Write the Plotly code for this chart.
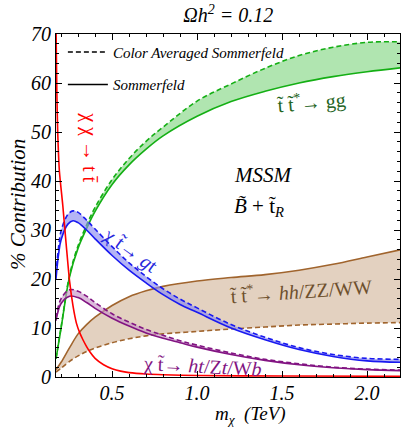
import plotly.graph_objects as go

# ---------------- data ----------------
x_gg = [0.17, 0.2, 0.25, 0.3, 0.35, 0.4, 0.5, 0.6, 0.7, 0.8, 1.0, 1.2, 1.4, 1.6, 1.8, 2.0, 2.2]
gg_somm = [3.7, 10, 20.5, 26.3, 30.3, 33.8, 39.3, 43.3, 46.5, 49.2, 53.2, 56.2, 58.3, 60.0, 61.3, 62.3, 63.1]
gg_cavg = [3.8, 10.2, 20.8, 26.8, 31.0, 34.6, 40.3, 44.6, 48.1, 51.0, 56.3, 59.8, 63.0, 65.6, 67.3, 68.3, 68.4]

x_gt = [0.17, 0.185, 0.2, 0.24, 0.27, 0.3, 0.35, 0.4, 0.5, 0.6, 0.7, 0.8, 0.9, 1.0, 1.2, 1.4, 1.6, 1.8, 2.0, 2.2]
gt_somm = [20, 25, 28, 31.2, 31.9, 31.5, 30.0, 28.2, 24.8, 21.8, 19.2, 16.8, 14.8, 13.2, 10.0, 7.6, 5.6, 4.2, 3.3, 3.0]
gt_cavg = [21, 26.5, 29.8, 33.2, 33.9, 33.6, 32.0, 30.2, 26.6, 23.3, 20.5, 18.0, 15.9, 14.1, 10.7, 8.1, 6.0, 4.6, 3.8, 3.6]

x_ht = [0.17, 0.2, 0.25, 0.3, 0.35, 0.4, 0.5, 0.6, 0.7, 0.8, 0.9, 1.0, 1.2, 1.4, 1.6, 1.8, 2.0, 2.2]
ht_somm = [11.5, 15.0, 16.5, 16.2, 15.2, 14.0, 12.0, 10.4, 9.0, 7.9, 7.0, 6.1, 4.6, 3.4, 2.5, 1.9, 1.5, 1.3]
ht_cavg = [12.0, 16.0, 17.8, 17.5, 16.5, 15.2, 12.9, 11.2, 9.7, 8.5, 7.4, 6.5, 4.9, 3.6, 2.7, 2.0, 1.6, 1.4]

x_hh = [0.17, 0.2, 0.25, 0.3, 0.35, 0.4, 0.5, 0.6, 0.7, 0.8, 1.0, 1.2, 1.4, 1.6, 1.8, 2.0, 2.2]
hh_somm = [1.5, 3.0, 6.0, 8.8, 10.7, 12.2, 14.6, 16.4, 17.6, 18.5, 19.6, 20.3, 20.9, 21.8, 23.0, 24.5, 26.0]
hh_cavg = [1.0, 1.8, 3.2, 4.3, 5.2, 5.9, 7.0, 7.8, 8.4, 8.8, 9.3, 9.8, 10.2, 10.6, 10.8, 11.0, 11.1]

x_tt = [0.17, 0.175, 0.18, 0.19, 0.21, 0.23, 0.25, 0.27, 0.29, 0.31, 0.33, 0.35, 0.37, 0.4, 0.45, 0.5, 0.55,
        0.6, 0.7, 0.8, 1.0, 1.5, 2.2]
tt_somm = [72, 58, 50, 42, 35, 27, 19.5, 14.5, 11, 9, 7.5, 6.2, 5.1, 3.8, 2.5, 1.7, 1.2,
           0.9, 0.6, 0.45, 0.3, 0.2, 0.15]

x_ticks = [0.5, 1.0, 1.5, 2.0]
x_tick_labels = ["0.5", "1.0", "1.5", "2.0"]
y_ticks = [0, 10, 20, 30, 40, 50, 60, 70]

FONT = "Liberation Serif"
LW = 1.6
DASH = "5px,3px"

bands = [
    (x_gg, gg_cavg, gg_somm, "rgb(20,175,20)", "rgba(150,220,150,0.75)"),
    (x_hh, hh_cavg, hh_somm, "rgb(160,100,45)", "rgba(215,190,165,0.7)"),
    (x_gt, gt_cavg, gt_somm, "rgb(25,25,240)", "rgba(140,140,240,0.65)"),
    (x_ht, ht_cavg, ht_somm, "rgb(130,20,130)", "rgba(200,150,200,0.65)"),
]

fig = go.Figure()
for xs, yd, ys, lc, fc in bands:
    fig.add_trace(go.Scatter(x=xs, y=yd, mode="lines", showlegend=False,
                             line=dict(color=lc, width=LW, dash=DASH, shape="spline")))
    fig.add_trace(go.Scatter(x=xs, y=ys, mode="lines", showlegend=False, fill="tonexty",
                             fillcolor=fc,
                             line=dict(color=lc, width=LW, shape="spline")))

fig.add_trace(go.Scatter(x=x_tt, y=tt_somm, mode="lines", showlegend=False,
                         line=dict(color="rgb(255,0,0)", width=LW, shape="spline", smoothing=0.6)))

# legend entries
fig.add_trace(go.Scatter(x=[None], y=[None], mode="lines", name="<i>Color Averaged Sommerfeld</i>",
                         legendgroup="a", line=dict(color="black", width=LW, dash=DASH)))
fig.add_trace(go.Scatter(x=[None], y=[None], mode="lines", name="<i>Sommerfeld</i>",
                         legendgroup="b", line=dict(color="black", width=LW)))

ann = [
    dict(x=1.676, y=56.3, text="t̃ t̃<sup>*</sup>→ gg", color="rgb(30,100,30)", angle=-5, size=20),
    dict(x=0.611, y=25.9, text="χ t̃→ <i>g</i>t", color="rgb(40,40,220)", angle=36, size=20),
    dict(x=0.37, y=46.7, text="χ χ → t t̄", color="rgb(255,0,0)", angle=90, size=20),
    dict(x=1.611, y=17.8, text="t̃ t̃<sup>*</sup>→ <i>hh</i>/ZZ/WW", color="rgb(110,80,45)", angle=-4, size=20),
    dict(x=1.029, y=2.2, text="χ t̃→ <i>ht</i>/Z<i>t</i>/W<i>b</i>", color="rgb(130,20,130)", angle=3, size=20),
]
for a in ann:
    fig.add_annotation(x=a["x"], y=a["y"], xref="x", yref="y", text=a["text"], showarrow=False,
                       textangle=a["angle"], xanchor="center", yanchor="middle",
                       font=dict(family=FONT, size=a["size"], color=a["color"]))

fig.add_annotation(x=1.205, y=41.2, xref="x", yref="y", xanchor="left", yanchor="middle",
                   text="<i>MSSM</i>",
                   showarrow=False, font=dict(family=FONT, size=21, color="black"))
fig.add_annotation(x=1.205, y=34.7, xref="x", yref="y", xanchor="left", yanchor="middle",
                   text="<i>B̃</i> + t̃<sub><i>R</i></sub>",
                   showarrow=False, font=dict(family=FONT, size=21, color="black"))

W, H = 401, 427
L, R, T, B = 56, 1, 34, 50


def px2paper(px, py):
    return (px - L) / (W - L - R), (H - B - py) / (H - T - B)


# axis titles
ax_, ay_ = px2paper(18, 205)
fig.add_annotation(x=ax_, y=ay_, xref="paper", yref="paper", text="<i>% Contribution</i>", showarrow=False,
                   textangle=-90, xanchor="center", yanchor="middle",
                   font=dict(family=FONT, size=21, color="black"))
bx_, by_ = px2paper(250, 415)
fig.add_annotation(x=bx_, y=by_, xref="paper", yref="paper", text="<i>m<sub>χ</sub></i>  <i>(TeV)</i>",
                   showarrow=False, xanchor="center", yanchor="middle",
                   font=dict(family=FONT, size=19, color="black"))

axis_common = dict(showline=True, linecolor="black", linewidth=1.2, mirror="allticks",
                   ticks="inside", ticklen=6, tickcolor="black", showgrid=False, zeroline=False,
                   tickfont=dict(family=FONT, size=20, color="black", style="italic"))

fig.update_xaxes(range=[0.17, 2.194], tickvals=x_ticks, ticktext=x_tick_labels,
                 ticklabelstandoff=-2,
                 minor=dict(dtick=0.1, tick0=0, ticks="inside", ticklen=3, tickcolor="black"),
                 **axis_common)
fig.update_yaxes(range=[0, 70], tickvals=y_ticks,
                 minor=dict(dtick=2, tick0=0, ticks="inside", ticklen=3, tickcolor="black"),
                 **axis_common)

fig.update_layout(
    width=W, height=H, margin=dict(l=L, r=R, t=T, b=B),
    paper_bgcolor="white", plot_bgcolor="white",
    title=dict(text="<i>Ωh<sup>2</sup> = 0.12</i>", x=0.569, xref="container", xanchor="center",
               y=1 - 15 / 427, yref="container", yanchor="middle",
               font=dict(family=FONT, size=20, color="black")),
    legend=dict(x=0.02, y=0.995, xanchor="left", yanchor="top", bgcolor="rgba(0,0,0,0)",
                font=dict(family=FONT, size=15, color="black"), tracegroupgap=10,
                itemwidth=40, traceorder="grouped"),
)

fig.write_html("out.html")
